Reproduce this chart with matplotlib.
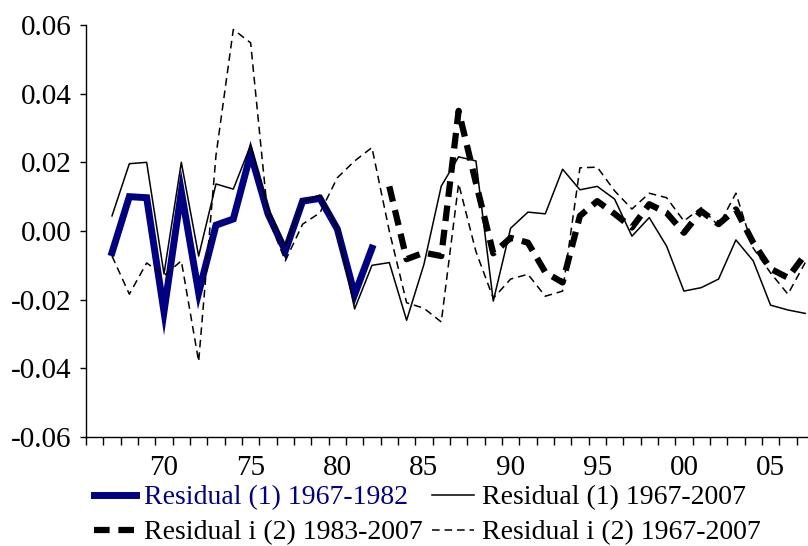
import matplotlib
matplotlib.use("Agg")
import matplotlib.pyplot as plt
import numpy as np

plt.rcParams['font.family'] = ['Liberation Serif', 'DejaVu Serif']
plt.rcParams['axes.unicode_minus'] = False

years_a = np.arange(1967, 1983)
years_b = np.arange(1983, 2008)
years_all = np.arange(1967, 2008)

# Residual (1) 1967-1982
res1_short = [-0.0063, 0.0100, 0.0097, -0.0235, 0.0115, -0.0180, 0.0017, 0.0035,
              0.0225, 0.0050, -0.0058, 0.0087, 0.0095, 0.0006, -0.0185, -0.0050]

# Residual (1) 1967-2007
res1_full = [0.0044, 0.0196, 0.0200, -0.0125, 0.0200, -0.0073, 0.0137, 0.0122,
             0.0250, 0.0067, -0.0044, 0.0085, 0.0105, 0.0009, -0.0227, -0.0100,
             -0.0092, -0.0260, -0.0097, 0.0131, 0.0216, 0.0204, -0.0204, 0.0008,
             0.0055, 0.0050, 0.0180, 0.0120, 0.0130, 0.0093, -0.0015, 0.0039,
             -0.0044, -0.0175, -0.0165, -0.0140, -0.0026, -0.0087, -0.0216, -0.0230,
             -0.0240]

# Residual i (2) 1983-2007
res2_short = [0.0130, -0.0082, -0.0063, -0.0073, 0.0350, 0.0140, -0.0065, -0.0020,
              -0.0034, -0.0120, -0.0150, 0.0044, 0.0087, 0.0050, 0.0010, 0.0078,
              0.0053, -0.0005, 0.0058, 0.0020, 0.0063, -0.0034, -0.0110, -0.0136,
              -0.0068]

# Residual i (2) 1967-2007
res2_full = [-0.0073, -0.0184, -0.0093, -0.0130, -0.0087, -0.0380, 0.0220, 0.0587,
             0.0548, 0.0040, -0.0087, 0.0020, 0.0053, 0.0155, 0.0204, 0.0243,
             0.0000, -0.0209, -0.0225, -0.0265, 0.0138, -0.0060, -0.0196, -0.0140,
             -0.0126, -0.0190, -0.0175, 0.0184, 0.0186, 0.0117, 0.0064, 0.0110,
             0.0097, 0.0029, 0.0068, 0.0015, 0.0110, -0.0050, -0.0122, -0.0184,
             -0.0092]

xtick_years = [1970, 1975, 1980, 1985, 1990, 1995, 2000, 2005]
xtick_labels = ['70', '75', '80', '85', '90', '95', '00', '05']
ytick_vals = [0.06, 0.04, 0.02, 0.00, -0.02, -0.04, -0.06]

navy = '#000080'

fig = plt.figure(figsize=(8.08, 5.46), dpi=100)
ax = fig.add_axes([86 / 808, 1 - 437 / 546, 1 - 86 / 808, (437 - 25) / 546])

l_blue, = ax.plot(years_a, res1_short, color=navy, lw=5.0, solid_joinstyle='miter',
                  label='Residual (1) 1967-1982')
l_solid, = ax.plot(years_all, res1_full, color='black', lw=1.1,
                   label='Residual (1) 1967-2007')
l_tdash, = ax.plot(years_b, res2_short, color='black', lw=4.5, dashes=(2.5, 1.4),
                   label='Residual i (2) 1983-2007')
l_dash, = ax.plot(years_all, res2_full, color='black', lw=1.1, dashes=(5.0, 3.2),
                  label='Residual i (2) 1967-2007')

ax.set_xlim(1965.5, 2007.16)
ax.set_ylim(-0.06, 0.06)

for side in ['top', 'right']:
    ax.spines[side].set_visible(False)
for side in ['left', 'bottom']:
    ax.spines[side].set_linewidth(1.0)

# year boundary ticks, labels centred on the years
ax.set_xticks(np.arange(1965.5, 2007.5, 1.0))
ax.set_xticklabels([])
ax.set_xticks(xtick_years, minor=True)
ax.set_xticklabels(xtick_labels, minor=True)
ax.tick_params(axis='x', which='major', direction='out', length=5.5, width=1.0)
ax.tick_params(axis='x', which='minor', length=0, pad=13, labelsize=21)

ax.set_yticks(ytick_vals)
ax.set_yticklabels(['%.2f' % v for v in ytick_vals])
ax.tick_params(axis='y', direction='out', length=4.5, width=1.0, pad=6, labelsize=21)

leg = fig.legend(handles=[l_blue, l_tdash, l_solid, l_dash], ncol=2,
                 loc='upper left', bbox_to_anchor=(94 / 808, 1 - 485 / 546),
                 frameon=False, fontsize=20, handlelength=1.5, handletextpad=0.3,
                 columnspacing=0.35, labelspacing=0.35, borderpad=0, borderaxespad=0)
leg.get_texts()[0].set_color(navy)

fig.savefig('out.png', dpi=100)
